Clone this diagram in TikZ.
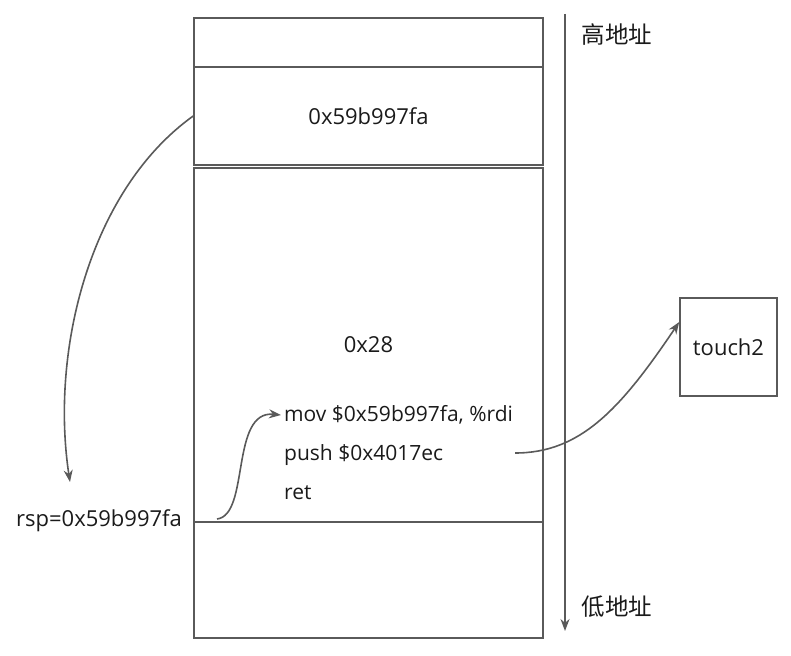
\documentclass[tikz,border=0pt]{standalone}
\usepackage{fontspec}
\setmainfont{Open Sans}
\newfontfamily\cjk{Noto Sans CJK SC}
\usetikzlibrary{arrows.meta,positioning}

\definecolor{linegray}{HTML}{5A5A5A}
\definecolor{textdark}{HTML}{1A1A1A}

\tikzset{
  cell/.style={draw=linegray, line width=1.6pt, minimum width=349pt, inner sep=0pt, text=textdark},
  codeline/.style={anchor=west, inner sep=0pt, text=textdark},
  jump/.style={draw=linegray, line width=1.6pt, -{Stealth[length=12pt, width=9pt]}},
}

\begin{document}
\begin{tikzpicture}[x=1pt, y=-1pt, font=\fontsize{22}{26}\selectfont]
  \useasboundingbox (0,0) rectangle (791,655);

  % stack
  \node[cell, minimum height=49pt] (top) at (368.5, 42.5) {};
  \node[cell, minimum height=98pt] (ret) at (368.5, 116) {0x59b997fa};
  \node[cell, minimum height=354pt] (buf) at (368.5, 345) {0x28};
  \node[cell, minimum height=116pt] (low) at (368.5, 580) {};

  \node[codeline, font=\fontsize{21}{25}\selectfont] (mov) at (284, 415) {mov \$0x59b997fa, \%rdi};
  \node[codeline, font=\fontsize{21}{25}\selectfont] (push) at (284, 455) {push \$0x4017ec};
  \node[codeline, font=\fontsize{21}{25}\selectfont] (retq) at (284, 493) {ret};

  \node[text=textdark, inner sep=0pt] (rsp) at (99, 521) {rsp=0x59b997fa};

  % address direction
  \coordinate (hi) at (565, 14);
  \coordinate (lo) at (565, 631);
  \draw[jump] (hi) -- (lo);
  \node[text=textdark, font=\cjk\fontsize{23.5}{28}\selectfont] (hiaddr) at (617, 35) {高地址};
  \node[text=textdark, font=\cjk\fontsize{23.5}{28}\selectfont] (loaddr) at (617, 607) {低地址};

  \node[draw=linegray, line width=1.6pt, minimum width=97pt, minimum height=98pt, text=textdark] (touch) at (728.5, 347) {touch2};

  % jumps
  \coordinate (rsptip) at (70, 482);
  \coordinate (rspout) at (217, 519);
  \coordinate (pushout) at (515, 453);
  \draw[jump] (ret.west) .. controls (90, 190) and (50, 350) .. (rsptip);
  \draw[jump] (rspout) .. controls (250, 515) and (230, 410) .. ([xshift=-3pt]mov.west);
  \draw[jump] (pushout) .. controls (580, 453) and (620, 410) .. ([yshift=25pt]touch.west);
\end{tikzpicture}
\end{document}
